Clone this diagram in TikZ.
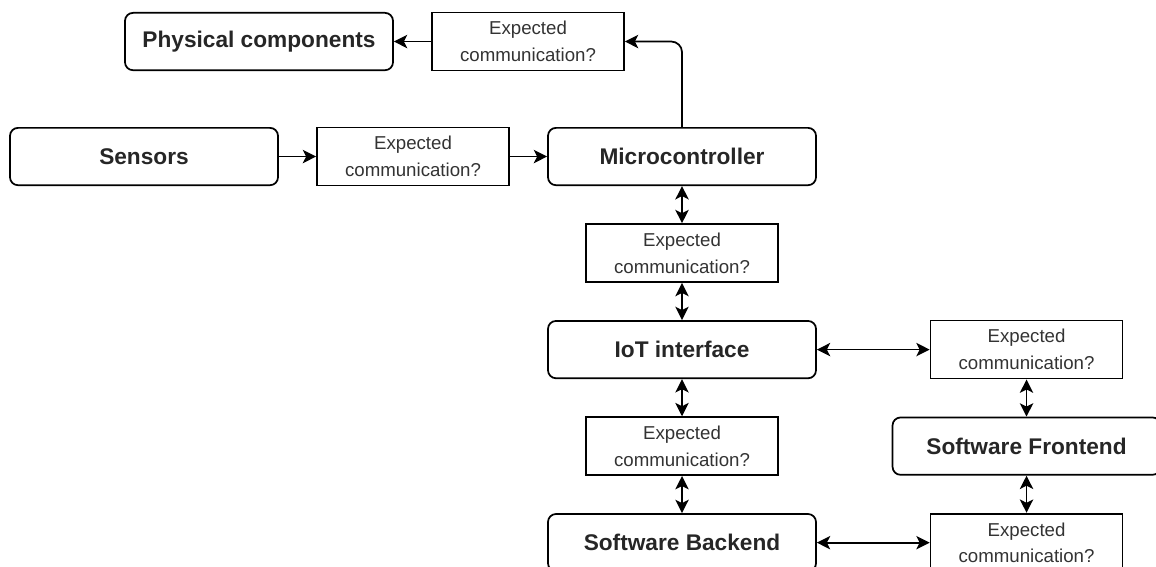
\documentclass[tikz,border=0pt]{standalone}
\usepackage{fontspec}
\setmainfont{Liberation Sans}
\usetikzlibrary{arrows.meta}

\begin{document}
\begin{tikzpicture}[node distance=72.4pt,line width=1.3pt]
\tikzstyle{comp}=[draw,rounded corners=6pt,minimum width=201pt,minimum height=43pt,inner sep=0pt,font=\fontsize{17}{20}\selectfont\bfseries,text=black!85]
\tikzstyle{comm}=[draw,minimum width=144pt,minimum height=43.5pt,inner sep=0pt,align=center,font=\fontsize{14}{20}\selectfont,text=black!80]
\tikzstyle{arr}=[line width=1.3pt,-{Stealth[length=10pt,width=10pt,inset=2.5pt]}]
\tikzstyle{darr}=[line width=1.3pt,{Stealth[length=10pt,width=10pt,inset=2.5pt]}-{Stealth[length=10pt,width=10pt,inset=2.5pt]}]
\clip (0,0) rectangle (867pt,-425.25pt);
\node [comp] (sens) at (108pt,-117.4pt) {Sensors};
\node [comm,right of=sens,node distance=201.75pt] (c1) {Expected\\communication?};
\node [comp,right of=c1,node distance=201.75pt] (mcu) {Microcontroller};
\node [comm,above of=mcu,xshift=-115.5pt,node distance=86.25pt] (c2) {Expected\\communication?};
\node [comp,left of=c2,node distance=201.75pt] (phys) {Physical components};

\node [comm,below of=mcu] (c3) {Expected\\communication?};
\node [comp,below of=c3] (iot) {IoT interface};
\node [comm,below of=iot] (c4) {Expected\\communication?};
\node [comp,below of=c4] (back) {Software Backend};

\node [comm,right of=iot,node distance=258.4pt] (c5) {Expected\\communication?};
\node [comp,below of=c5] (front) {Software Frontend};
\node [comm,below of=front] (c6) {Expected\\communication?};

\draw[arr,rounded corners=8pt] (mcu.north) |- (c2.east);
\path
(sens) edge[arr] (c1)
(c1) edge[arr] (mcu)
(c2) edge[arr] (phys)
(mcu) edge[darr] (c3)
(c3) edge[darr] (iot)
(iot) edge[darr] (c4)
(c4) edge[darr] (back)
(iot) edge[darr] (c5)
(c5) edge[darr] (front)
(front) edge[darr] (c6)
(back) edge[darr] (c6);
\end{tikzpicture}
\end{document}
